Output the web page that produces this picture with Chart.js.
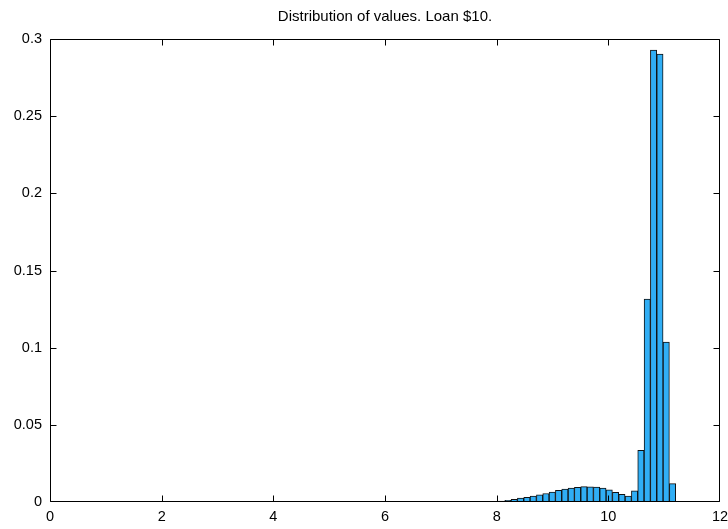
<!DOCTYPE html>
<html>
<head>
<meta charset="utf-8">
<script src="https://cdn.jsdelivr.net/npm/chart.js@4.4.1/dist/chart.umd.min.js"></script>
<style>
  html, body { margin: 0; padding: 0; background: #fff; }
  #wrap { width: 728px; height: 529px; position: relative; }
</style>
</head>
<body>
<div id="wrap"><canvas id="c" width="728" height="529"></canvas></div>
<script>
const titleText = 'Distribution of values. Loan $10.';
const binCenters = [7.181, 7.295, 7.408, 7.521, 7.635, 7.748, 7.862, 7.975,
  8.088, 8.202, 8.315, 8.428, 8.542, 8.655, 8.769, 8.882, 8.996, 9.109,
  9.222, 9.336, 9.449, 9.563, 9.676, 9.790, 9.903, 10.016, 10.130, 10.243,
  10.357, 10.470, 10.583, 10.697, 10.810, 10.924, 11.037, 11.150, 11.264];
const density = [0.00003, 0.00005, 0.00007, 0.0001, 0.00015, 0.0002, 0.0003, 0.0004,
  0.0006, 0.0011, 0.0017, 0.0025, 0.0030, 0.0038, 0.0046, 0.0055, 0.0065, 0.0075,
  0.0083, 0.0090, 0.0095, 0.0100, 0.0099, 0.0097, 0.0090, 0.0079, 0.0063, 0.0049,
  0.0038, 0.0073, 0.0335, 0.1315, 0.2928, 0.2902, 0.1037, 0.0119, 0.0004];
const xTicks = [0, 2, 4, 6, 8, 10, 12];
const yTicks = [0, 0.05, 0.1, 0.15, 0.2, 0.25, 0.3];

const FONT = { family: "'Liberation Sans', Arial, sans-serif", size: 14.5 };

const frameTicks = {
  id: 'frameTicks',
  afterDatasetsDraw(chart) {
    const { ctx, scales: { x, y } } = chart;
    ctx.save();
    ctx.strokeStyle = '#000';
    ctx.lineWidth = 1;
    const L = Math.round(x.getPixelForValue(0)) + 0.5, R = Math.round(x.getPixelForValue(12)) - 0.5;
    const T = Math.round(y.getPixelForValue(0.3)) + 0.5, B = Math.round(y.getPixelForValue(0)) - 0.5;
    const len = 6;
    const clamp = (v, a, b) => Math.min(Math.max(v, a), b);
    ctx.beginPath();
    ctx.moveTo(L, T); ctx.lineTo(R, T); ctx.lineTo(R, B); ctx.lineTo(L, B); ctx.closePath();
    x.ticks.forEach(t => {
      const px = clamp(Math.round(x.getPixelForValue(t.value)) + 0.5, L, R);
      ctx.moveTo(px, B); ctx.lineTo(px, B - len);
      ctx.moveTo(px, T); ctx.lineTo(px, T + len);
    });
    y.ticks.forEach(t => {
      const py = clamp(Math.round(y.getPixelForValue(t.value)) + 0.5, T, B);
      ctx.moveTo(L, py); ctx.lineTo(L + len, py);
      ctx.moveTo(R, py); ctx.lineTo(R - len, py);
    });
    ctx.stroke();
    ctx.restore();
  }
};

new Chart(document.getElementById('c'), {
  type: 'bar',
  data: {
    datasets: [{
      data: binCenters.map((v, i) => ({ x: v, y: density[i] })),
      backgroundColor: '#30aef5',
      borderColor: '#111',
      borderWidth: 1,
      borderSkipped: false,
      categoryPercentage: 1.0,
      barPercentage: 1.0
    }]
  },
  options: {
    responsive: false,
    animation: false,
    events: [],
    layout: { padding: { left: 0, right: 8, top: 0, bottom: 0 } },
    plugins: {
      legend: { display: false },
      tooltip: { enabled: false },
      title: {
        display: true,
        text: titleText,
        fullSize: false,
        color: '#000',
        font: { family: FONT.family, size: 15, weight: 'normal', lineHeight: 1.2 },
        padding: { top: 8, bottom: 13 }
      }
    },
    scales: {
      x: {
        type: 'linear',
        min: 0, max: 12,
        offset: false,
        grid: { display: false, drawTicks: false, tickLength: 0 },
        border: { display: false },
        afterBuildTicks: s => { s.ticks = xTicks.map(v => ({ value: v })); },
        ticks: { color: '#000', font: FONT, padding: 6, maxRotation: 0, autoSkip: false },
        afterFit: s => { s.height = 27; s.paddingLeft = 0; s.paddingRight = 0; }
      },
      y: {
        min: 0, max: 0.3,
        grid: { display: false, drawTicks: false, tickLength: 0 },
        border: { display: false },
        afterBuildTicks: s => { s.ticks = yTicks.map(v => ({ value: v })); },
        ticks: { color: '#000', font: FONT, padding: 8, callback: v => String(v) },
        afterFit: s => { s.width = 50; s.paddingTop = 0; s.paddingBottom = 0; }
      }
    }
  },
  plugins: [frameTicks]
});
</script>
</body>
</html>
